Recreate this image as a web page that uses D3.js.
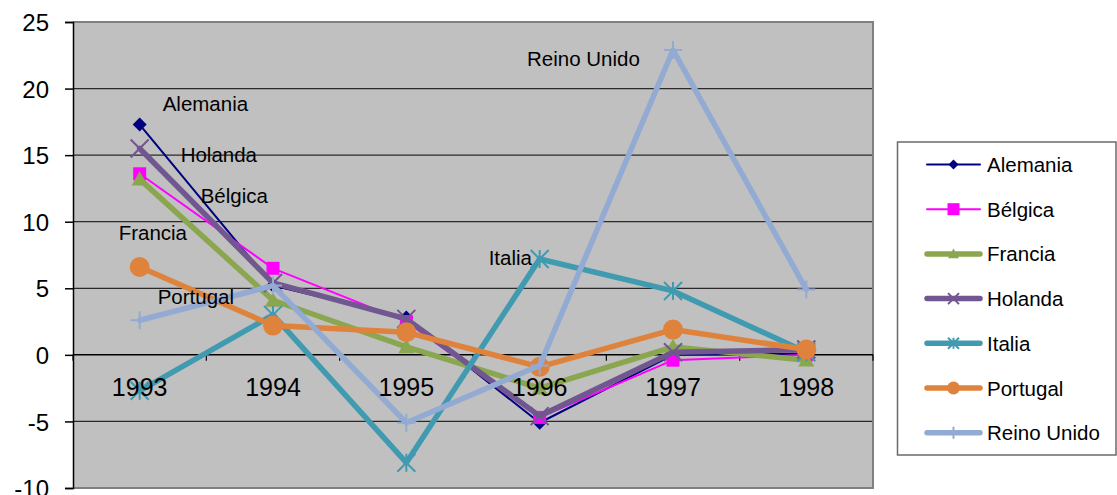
<!DOCTYPE html>
<html>
<head>
<meta charset="utf-8">
<script src="https://cdn.jsdelivr.net/npm/d3@7"></script>
<style>
  html, body { margin: 0; padding: 0; background: #ffffff; }
  svg { display: block; font-family: "Liberation Sans", Arial, sans-serif; }
</style>
</head>
<body>
<svg id="chart" width="1117" height="495"></svg>
<script>
// Years on the category axis
const years = ["1993", "1994", "1995", "1996", "1997", "1998"];

// Annual values per country
const alemania   = [17.3, 5.2, 2.8, -5.1, 0.0, 0.1];
const belgica    = [13.6, 6.5, 2.5, -4.7, -0.4, 0.0];
const francia    = [13.2, 4.1, 0.6, -2.5, 0.6, -0.4];
const holanda    = [15.5, 5.4, 2.7, -4.6, 0.2, 0.4];
const italia     = [-2.7, 3.0, -8.1, 7.2, 4.8, 0.2];
const portugal   = [6.6, 2.2, 1.7, -0.9, 1.9, 0.4];
const reinoUnido = [2.6, 5.2, -5.1, -0.8, 22.9, 4.9];

// Value axis tick labels
const yTicks = [-10, -5, 0, 5, 10, 15, 20, 25];

const seriesNames = ["Alemania", "Bélgica", "Francia", "Holanda", "Italia", "Portugal", "Reino Unido"];
const seriesValues = [alemania, belgica, francia, holanda, italia, portugal, reinoUnido];

// Line styling per series
const styles = [
  { color: "#000080", width: 2,   marker: "diamond" },
  { color: "#ff00ff", width: 2,   marker: "square" },
  { color: "#8aa64f", width: 5.5, marker: "triangle" },
  { color: "#71578f", width: 5.5, marker: "x" },
  { color: "#409ab0", width: 5.5, marker: "asterisk" },
  { color: "#df833c", width: 5.5, marker: "circle" },
  { color: "#93aad3", width: 5.5, marker: "plus" }
];

// In-plot labels: series index, anchor year and offset from that point
const labelSpots = [
  { s: 0, i: 0, dx: 23,  dy: -14 },
  { s: 3, i: 0, dx: 41,  dy: 14 },
  { s: 1, i: 0, dx: 61,  dy: 29 },
  { s: 2, i: 0, dx: -21, dy: 61 },
  { s: 5, i: 0, dx: 18,  dy: 37 },
  { s: 4, i: 3, dx: -51, dy: 6 },
  { s: 6, i: 4, dx: -146, dy: 16 }
];

const svg = d3.select("#chart");
const plot = { left: 73, right: 873, top: 22, bottom: 488 };

const x = d3.scaleBand().domain(years).range([plot.left, plot.right]);
const y = d3.scaleLinear().domain([-10, 25]).range([plot.bottom, plot.top]);
const cx = d => x(d) + x.bandwidth() / 2;

// Plot background
svg.append("rect")
  .attr("x", plot.left).attr("y", plot.top)
  .attr("width", plot.right - plot.left).attr("height", plot.bottom - plot.top)
  .attr("fill", "#c0c0c0");

// Horizontal gridlines
svg.append("g").selectAll("line")
  .data(yTicks.filter(t => t !== 0 && t !== 25 && t !== -10))
  .join("line")
  .attr("x1", plot.left).attr("x2", plot.right)
  .attr("y1", d => y(d)).attr("y2", d => y(d))
  .attr("stroke", "#2a2a2a").attr("stroke-width", 1.2);

// Plot frame (top, right, bottom)
svg.append("path")
  .attr("d", `M${plot.left},${plot.top}H${plot.right}V${plot.bottom}H${plot.left}`)
  .attr("fill", "none").attr("stroke", "#808080").attr("stroke-width", 2);

// Value axis, labelled with a plain hyphen for negatives
const yAxis = d3.axisLeft(y).tickValues(yTicks).tickSize(8).tickPadding(16).tickFormat(d => String(d));
const gy = svg.append("g").attr("transform", `translate(${plot.left},0)`).call(yAxis);
gy.select(".domain").attr("stroke", "#000").attr("stroke-width", 1.5);
gy.selectAll(".tick line").attr("stroke", "#000").attr("stroke-width", 1.5);
gy.selectAll(".tick text").attr("font-size", 24).attr("fill", "#000")
  .attr("font-family", "Liberation Sans, Arial, sans-serif").attr("dy", "0.36em");

// Category axis crossing at zero
const boundaries = d3.range(years.length + 1).map(i => plot.left + i * x.bandwidth());
const gx = svg.append("g");
gx.append("line")
  .attr("x1", plot.left).attr("x2", plot.right)
  .attr("y1", y(0)).attr("y2", y(0))
  .attr("stroke", "#000").attr("stroke-width", 1.5);
gx.selectAll("line.tk").data(boundaries).join("line").attr("class", "tk")
  .attr("x1", d => d).attr("x2", d => d)
  .attr("y1", y(0)).attr("y2", y(0) + 6)
  .attr("stroke", "#000").attr("stroke-width", 1.2);

// Marker shapes
function markerPath(type, s) {
  const h = s / 2;
  switch (type) {
    case "diamond": return `M0,${-h}L${h},0L0,${h}L${-h},0Z`;
    case "square": return `M${-h},${-h}H${h}V${h}H${-h}Z`;
    case "triangle": return `M0,${-h}L${h},${h * 0.8}L${-h},${h * 0.8}Z`;
    case "x": return `M${-h},${-h}L${h},${h}M${h},${-h}L${-h},${h}`;
    case "asterisk": return `M${-h},${-h}L${h},${h}M${h},${-h}L${-h},${h}M0,${-h}V${h}`;
    case "plus": return `M${-h},0H${h}M0,${-h}V${h}`;
    default: return "";
  }
}
function drawMarker(g, type, color, px, py, size) {
  if (type === "circle") {
    g.append("circle").attr("cx", px).attr("cy", py).attr("r", size / 2).attr("fill", color);
  } else if (type === "x" || type === "asterisk" || type === "plus") {
    g.append("path").attr("transform", `translate(${px},${py})`)
      .attr("d", markerPath(type, size)).attr("fill", "none")
      .attr("stroke", color).attr("stroke-width", 2);
  } else {
    g.append("path").attr("transform", `translate(${px},${py})`)
      .attr("d", markerPath(type, size)).attr("fill", color);
  }
}
const markerSize = { diamond: 14, square: 13, triangle: 16, x: 18, asterisk: 18, circle: 20, plus: 18 };

// Series lines and markers
const line = d3.line().x((d, i) => cx(years[i])).y(d => y(d));
const series = svg.append("g");
seriesValues.forEach((vals, si) => {
  const st = styles[si];
  const g = series.append("g");
  g.append("path").datum(vals).attr("d", line)
    .attr("fill", "none").attr("stroke", st.color).attr("stroke-width", st.width)
    .attr("stroke-linejoin", "round").attr("stroke-linecap", "round");
  vals.forEach((v, i) => drawMarker(g, st.marker, st.color, cx(years[i]), y(v), markerSize[st.marker]));
});

// Category labels
svg.append("g").selectAll("text").data(years).join("text")
  .attr("x", d => cx(d)).attr("y", y(0) + 41)
  .attr("text-anchor", "middle").attr("font-size", 25).attr("fill", "#000")
  .text(d => d);

// Series name labels inside the plot
svg.append("g").selectAll("text").data(labelSpots).join("text")
  .attr("x", d => cx(years[d.i]) + d.dx)
  .attr("y", d => y(seriesValues[d.s][d.i]) + d.dy)
  .attr("font-size", 20.5).attr("fill", "#000")
  .text(d => seriesNames[d.s]);

// Legend
const legend = svg.append("g");
legend.append("rect").attr("x", 897.5).attr("y", 142).attr("width", 218.5).attr("height", 313)
  .attr("fill", "#fff").attr("stroke", "#6a6a6a").attr("stroke-width", 1.5);
const legendMarker = { diamond: 10, square: 12, triangle: 11, x: 11, asterisk: 11, circle: 13, plus: 12 };
seriesNames.forEach((name, si) => {
  const st = styles[si];
  const ly = 164.5 + si * 44.7;
  const g = legend.append("g");
  g.append("line").attr("x1", 927).attr("x2", 980).attr("y1", ly).attr("y2", ly)
    .attr("stroke", st.color).attr("stroke-width", st.width).attr("stroke-linecap", "round");
  drawMarker(g, st.marker, st.color, 953.5, ly, legendMarker[st.marker]);
  g.append("text").attr("x", 987).attr("y", ly + 7.5).attr("font-size", 20.5).attr("fill", "#000").text(name);
});
</script>
</body>
</html>
